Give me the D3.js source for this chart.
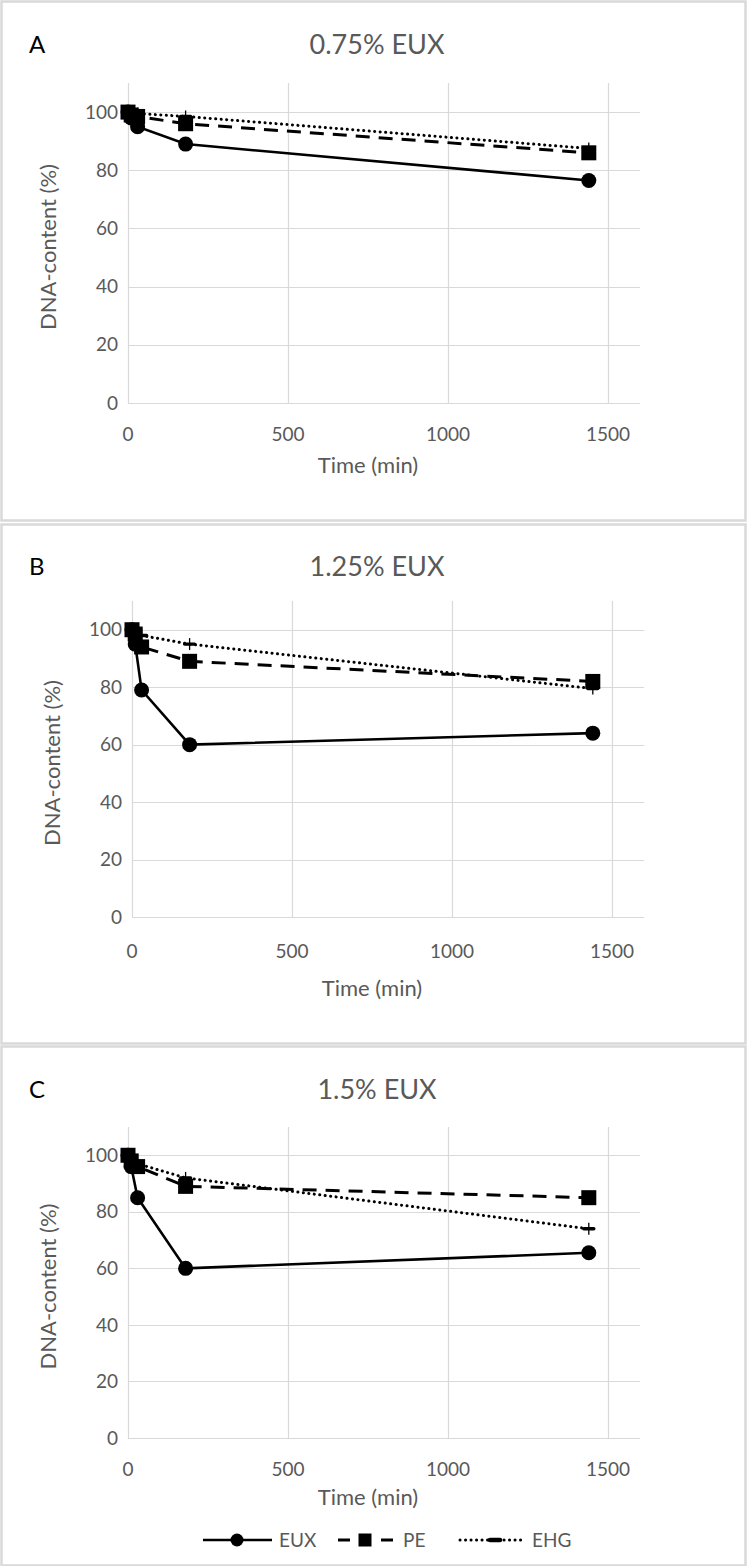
<!DOCTYPE html>
<html><head><meta charset="utf-8">
<script src="https://cdn.jsdelivr.net/npm/d3@7"></script>
<style>
html,body{margin:0;padding:0;background:#fff;}
svg{display:block;}
text{font-family:Lato,"Open Sans",sans-serif;}
</style></head>
<body>
<svg id="chart" width="747" height="1566"></svg>
<script>
// ---- data ----
const times = [0, 10, 30, 180, 1440];
const panelLetters = ["A", "B", "C"];
const panelTitles = ["0.75% EUX", "1.25% EUX", "1.5% EUX"];
const euxA = [100, 98, 95, 89, 76.5];
const peA  = [100, 99, 98.5, 96, 86];
const ehgA = [100, 100, 99.5, 98.5, 87.5];
const euxB = [100, 95, 79, 60, 64];
const peB  = [100, 98.5, 94, 89, 82];
const ehgB = [100, 99, 98, 95, 79.5];
const euxC = [100, 96, 85, 60, 65.5];
const peC  = [100, 98, 96, 89, 85];
const ehgC = [100, 99, 97, 92, 74];
const seriesNames = ["EUX", "PE", "EHG"];
const yTicks = [0, 20, 40, 60, 80, 100];
const xTicks = [0, 500, 1000, 1500];
const xLabel = "Time (min)";
const yLabel = "DNA-content (%)";

// ---- layout ----
const panels = [
  {box:[1,1,744,519], left:128, right:640, top:83, bottom:403, titleY:45, xlabY:434, xtitleY:465, data:[euxA,peA,ehgA]},
  {box:[1,524,744,519], left:132, right:644, top:601, bottom:917, titleY:567, xlabY:951, xtitleY:988, data:[euxB,peB,ehgB]},
  {box:[1,1046,744,519], left:128, right:640, top:1127, bottom:1438, titleY:1090, xlabY:1469, xtitleY:1497, data:[euxC,peC,ehgC]}
];
const svg = d3.select("#chart");
const grid = "#d9d9d9", txt = "#595959";
const styles = [
  {dash:null, w:2.6, marker:"circle"},
  {dash:"14,9", w:3, marker:"square"},
  {dash:"0.1,5.4", w:3, marker:"plus", cap:"round"}
];

function drawMarker(g, type, x, y) {
  if (type === "circle") {
    g.append("circle").attr("cx", x).attr("cy", y).attr("r", 7.5).attr("fill", "#000");
  } else if (type === "square") {
    g.append("rect").attr("x", x-7.5).attr("y", y-7.5).attr("width", 15).attr("height", 15).attr("fill", "#000");
  } else {
    g.append("line").attr("x1", x-5).attr("x2", x+5).attr("y1", y).attr("y2", y).attr("stroke", "#000").attr("stroke-width", 3.4).attr("stroke-linecap","round");
    g.append("line").attr("x1", x).attr("x2", x).attr("y1", y-6).attr("y2", y+6).attr("stroke", "#000").attr("stroke-width", 1.3);
  }
}

panels.forEach((p, i) => {
  svg.append("rect").attr("x", p.box[0]+0.5).attr("y", p.box[1]+0.5)
    .attr("width", p.box[2]).attr("height", p.box[3])
    .attr("fill", "#fff").attr("stroke", "#d9d9d9").attr("stroke-width", 2.5);

  const x = d3.scaleLinear().domain([0, 1600]).range([p.left, p.right]);
  const y = d3.scaleLinear().domain([0, 110]).range([p.bottom, p.top]);
  const g = svg.append("g");

  g.selectAll(".hg").data(yTicks).enter().append("line")
    .attr("x1", p.left).attr("x2", p.right)
    .attr("y1", d => Math.round(y(d))+0.5).attr("y2", d => Math.round(y(d))+0.5)
    .attr("stroke", grid).attr("stroke-width", 1.2);
  g.selectAll(".vg").data(xTicks).enter().append("line")
    .attr("x1", d => Math.round(x(d))+0.5).attr("x2", d => Math.round(x(d))+0.5)
    .attr("y1", p.top).attr("y2", p.bottom)
    .attr("stroke", grid).attr("stroke-width", 1.2);

  g.selectAll(".yl").data(yTicks).enter().append("text")
    .attr("x", p.left - 10).attr("y", d => y(d)).attr("dy", "0.35em")
    .attr("text-anchor", "end").attr("fill", txt).attr("font-size", 19).text(d => d);
  g.selectAll(".xl").data(xTicks).enter().append("text")
    .attr("x", d => x(d)).attr("y", p.xlabY).attr("dy", "0.35em")
    .attr("text-anchor", "middle").attr("fill", txt).attr("font-size", 19).text(d => d);

  g.append("text").attr("x", (p.left + p.right)/2 - 16).attr("y", p.xtitleY).attr("dy","0.35em")
    .attr("text-anchor", "middle").attr("fill", txt).attr("font-size", 22).text(xLabel);
  const yc = (p.top + p.bottom)/2 + 4;
  g.append("text").attr("transform", `translate(${p.left-80},${yc}) rotate(-90)`)
    .attr("dy", "0.35em").attr("text-anchor", "middle").attr("fill", txt)
    .attr("font-size", 22).text(yLabel);

  g.append("text").attr("x", 377).attr("y", p.titleY).attr("dy","0.35em")
    .attr("text-anchor", "middle").attr("fill", txt).attr("font-size", 27).text(panelTitles[i]);
  g.append("text").attr("x", 29).attr("y", p.titleY).attr("dy","0.35em")
    .attr("fill", "#000").attr("font-size", 24).text(panelLetters[i]);

  const line = d3.line().x((d, k) => x(times[k])).y(d => y(d));
  p.data.forEach((vals, s) => {
    const st = styles[s];
    g.append("path").datum(vals).attr("d", line).attr("fill", "none")
      .attr("stroke", "#000").attr("stroke-width", st.w)
      .attr("stroke-dasharray", st.dash).attr("stroke-linecap", st.cap || "butt");
  });
  p.data.forEach((vals, s) => {
    vals.forEach((v, k) => drawMarker(g, styles[s].marker, x(times[k]), y(v)));
  });
});

// legend
const lg = svg.append("g");
const ly = 1540;
const legendItems = [
  {x0:203, x1:272, tx:279},
  {x0:338, x1:393, tx:403},
  {x0:460, x1:524, tx:532}
];
legendItems.forEach((it, s) => {
  const st = styles[s];
  if (s === 1) {
    lg.append("line").attr("x1", 338).attr("x2", 350).attr("y1", ly).attr("y2", ly).attr("stroke","#000").attr("stroke-width",3);
    lg.append("line").attr("x1", 381).attr("x2", 393).attr("y1", ly).attr("y2", ly).attr("stroke","#000").attr("stroke-width",3);
    lg.append("rect").attr("x", 365-6.5).attr("y", ly-6.5).attr("width", 13).attr("height", 13).attr("fill", "#000");
  } else {
    lg.append("line").attr("x1", it.x0).attr("x2", it.x1).attr("y1", ly).attr("y2", ly)
      .attr("stroke", "#000").attr("stroke-width", st.w).attr("stroke-dasharray", st.dash)
      .attr("stroke-linecap", st.cap || "butt");
    if (s === 0) lg.append("circle").attr("cx", 237).attr("cy", ly).attr("r", 6.5).attr("fill", "#000");
    else lg.append("line").attr("x1", 490).attr("x2", 500).attr("y1", ly).attr("y2", ly).attr("stroke","#000").attr("stroke-width",4.5).attr("stroke-linecap","round");
  }
  lg.append("text").attr("x", it.tx).attr("y", ly).attr("dy", "0.35em")
    .attr("fill", txt).attr("font-size", 19).text(seriesNames[s]);
});
</script>
</body></html>
